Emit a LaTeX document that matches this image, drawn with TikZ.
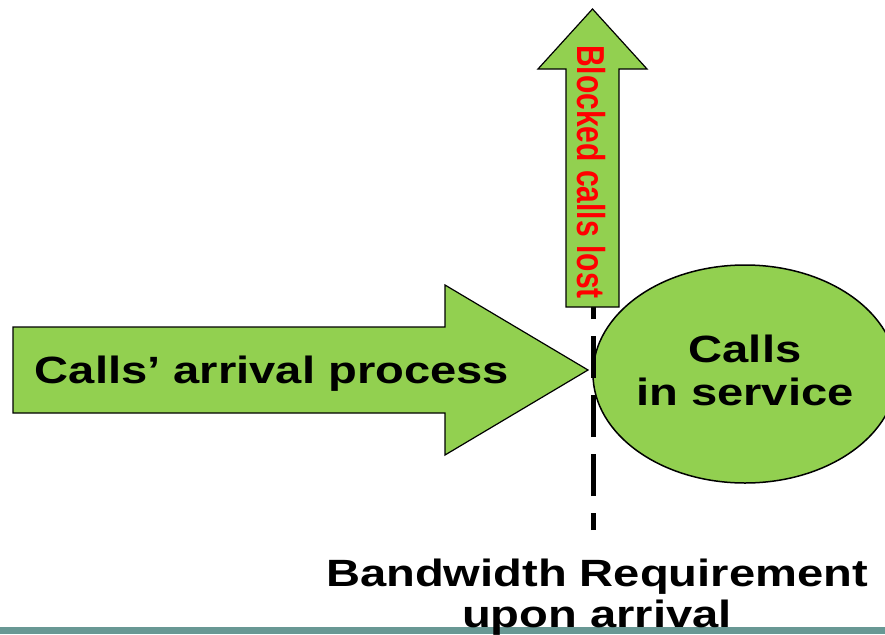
\documentclass[tikz,border=0pt]{standalone}
\usepackage{fontspec}
\setmainfont{Liberation Sans}
\usepackage{graphicx}
\usepackage{xcolor}
\usepackage{tikz}
\usetikzlibrary{shapes.geometric}
\definecolor{callgreen}{RGB}{146,208,80}
\definecolor{barteal}{RGB}{104,152,148}
\newcommand{\widetext}[1]{\scalebox{1.24}[1]{#1}}
\tikzset{blockarrow/.style={draw=black,fill=callgreen,line width=1.2pt,line join=miter},
         bigtext/.style={font=\fontsize{38}{43}\selectfont\bfseries,align=center,inner sep=0pt}}

\begin{document}
\begin{tikzpicture}[x=1pt,y=-1pt]
    \useasboundingbox (0,0) rectangle (885,634);
    \fill[barteal] (0,627) rectangle (885,634);

    % calls in service
    \node[ellipse,draw,fill=callgreen,line width=1.5pt,minimum width=304pt,minimum height=218pt,inner sep=0pt] (serv) at (745,374) {};
    \node[bigtext] (servtxt) at (745,370) {\widetext{Calls}\\\widetext{in service}};

    % arrivals
    \draw[blockarrow] (13,327) -- (445,327) -- (445,285) -- (588,370) -- (445,455) -- (445,413) -- (13,413) -- cycle;
    \node[bigtext,anchor=base] (arrtxt) at (272,383) {\widetext{Calls’ arrival process}};

    % bandwidth check
    \coordinate (dtop) at (593,307);
    \coordinate (dbot) at (593,530);
    \draw[line width=5pt,dash pattern=on 42pt off 17pt,dash phase=25pt] (dbot) -- (dtop);

    % blocked calls
    \draw[blockarrow] (566,307) -- (566,69) -- (538,69) -- (592.5,9) -- (647,69) -- (619,69) -- (619,307) -- cycle;
    \node[rotate=-90,font=\fontsize{30}{30}\selectfont\bfseries,text=red,inner sep=0pt] (lost) at (591.5,172) {\scalebox{1}[1.3]{Blocked calls lost}};

    \node[bigtext,anchor=base] (bwtxt) at (597,586) {\widetext{Bandwidth Requirement}};
    \node[bigtext,anchor=base] (uptxt) at (597,627) {\widetext{upon arrival}};
\end{tikzpicture}
\end{document}
